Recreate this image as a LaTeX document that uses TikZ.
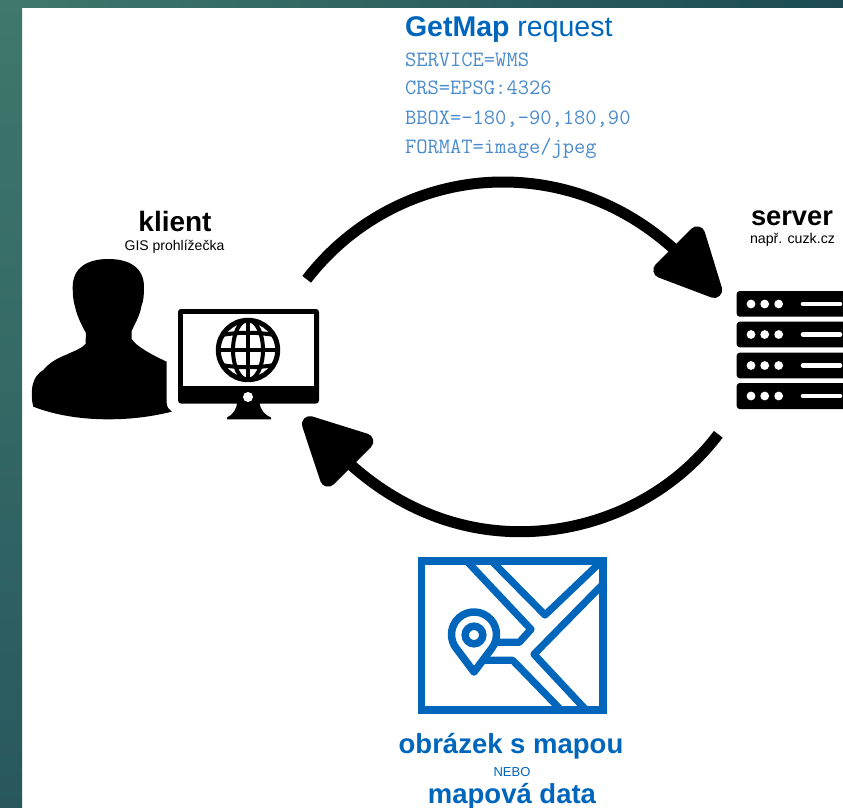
\documentclass[tikz,border=0pt]{standalone}
\usepackage{fontspec}
\setmainfont{Liberation Sans}
\definecolor{mapblue}{RGB}{0,102,187}
\definecolor{reqblue}{RGB}{75,140,205}
\definecolor{bgtop}{RGB}{63,120,108}
\definecolor{bgmid}{RGB}{58,113,106}
\definecolor{bgbot}{RGB}{40,88,94}
\definecolor{bgstripmid}{RGB}{38,88,92}
\definecolor{bgright}{RGB}{28,75,83}
\tikzset{
  lbl/.style={inner sep=0pt,outer sep=0pt,anchor=base},
  lblw/.style={inner sep=0pt,outer sep=0pt,anchor=base west},
  title/.style={lbl,font=\fontsize{28}{30}\selectfont\bfseries},
  subt/.style={lbl,font=\fontsize{14}{16}\selectfont},
  reqline/.style={lblw,text=reqblue,font=\fontsize{21.9}{24}\selectfont\ttfamily},
  maptitle/.style={lbl,text=mapblue,font=\fontsize{27.5}{30}\selectfont\bfseries},
  flow/.style={draw=black,line width=11pt,line cap=butt},
  flowhead/.style={fill=black,draw=black,line width=16pt,line join=round},
  maproad/.style={draw=mapblue,line width=7.2pt,line join=round},
  rack/.style={fill=black,rounded corners=3pt},
  rackdot/.style={fill=white},
  rackbar/.style={draw=white,line width=4.6pt,line cap=round}
}
\begin{document}
\begin{tikzpicture}[x=1pt,y=-1pt]
\useasboundingbox (0,0) rectangle (843,808);
% backdrop
\fill[white] (0,0) rectangle (843,808);
\shade[left color=bgtop,middle color=bgstripmid,right color=bgright] (0,0) rectangle (843,8);
\shade[top color=bgtop,middle color=bgmid,bottom color=bgbot] (0,0) rectangle (22,808);

% person
\fill[black] (108.3,259) .. controls (130,259) and (144,268) .. (144,287)
  .. controls (144,295) and (143.5,301) .. (141.7,305)
  .. controls (140,316) and (134,325) .. (131.7,331)
  -- (131.7,339) .. controls (136,346) and (150,354) .. (166.7,361.7)
  -- (166.7,403.3) .. controls (167,407) and (169,410) .. (171.7,411.7)
  .. controls (150,417) and (130,419.3) .. (108.3,419.3)
  .. controls (80,419.3) and (55,415) .. (33.3,406.7)
  .. controls (31.5,400) and (31.5,393) .. (32.3,386.7)
  .. controls (34,378) and (38,373) .. (43.3,370)
  .. controls (50,362) and (58,358) .. (66.7,354.5)
  .. controls (74,351) and (81,349) .. (85.5,344)
  -- (86,333) .. controls (82,326) and (77,316) .. (75,306.7)
  .. controls (73,300) and (72.7,294) .. (72.7,287)
  .. controls (72.7,268) and (87,259) .. (108.3,259) -- cycle;

% monitor
\fill[black,rounded corners=3pt] (178,309) rectangle (319,403.5);
\fill[white] (183.3,314.3) rectangle (314,386);
\fill[black] (237,402) -- (259.5,402) .. controls (260,410) and (265,415) .. (271,417.5)
  -- (271,419.3) -- (227,419.3) -- (227,417.5) .. controls (232,415) and (237,410) .. (237,402) -- cycle;
\fill[white] (248,397) circle[radius=5pt];
% globe
\begin{scope}
\clip (248,350) circle[radius=31pt];
\draw[black,line width=4pt] (248,318) -- (248,382);
\draw[black,line width=4pt] (216,350) -- (280,350);
\draw[black,line width=4pt] (222,335) .. controls (238,332) and (258,332) .. (274,335);
\draw[black,line width=4pt] (222,365) .. controls (238,368) and (258,368) .. (274,365);
\draw[black,line width=4pt] (248,350) ellipse[x radius=15pt,y radius=30pt];
\end{scope}
\draw[black,line width=5pt] (248,350) circle[radius=29.7pt];

% server
\fill[rack] (736.7,291) rectangle (850,316.7);
\fill[rack] (736.7,321.7) rectangle (850,347.3);
\fill[rack] (736.7,352.7) rectangle (850,378.3);
\fill[rack] (736.7,383) rectangle (850,409);
\foreach \ry in {304,334.5,365.5,396}{
  \fill[rackdot] (751,\ry) circle[radius=4.4pt];
  \fill[rackdot] (764.7,\ry) circle[radius=4.4pt];
  \fill[rackdot] (778.7,\ry) circle[radius=4.4pt];
  \draw[rackbar] (803,\ry) -- (840,\ry);
}

% connectors
\coordinate (reqstart) at (306.7,279.3);
\coordinate (reqpeak) at (503,182);
\coordinate (reqend) at (676,251);
\coordinate (respstart) at (718.3,434.3);
\coordinate (resplow) at (520,531.7);
\coordinate (respend) at (350,464);
\draw[flow] (reqstart) .. controls (353.5,218.3) and (426.1,182) .. (reqpeak)
  .. controls (565.8,182) and (626.8,205.5) .. (reqend);
\fill[flowhead] (697.1,234.3) -- (661.3,270) -- (714.2,290) -- cycle;
\draw[flow] (respstart) .. controls (671.4,496.1) and (597.5,531.7) .. (resplow)
  .. controls (458.1,531.7) and (399.1,508.3) .. (respend);
\fill[flowhead] (309.9,424.1) -- (365.3,441.4) -- (328,478.7) -- cycle;

% map icon
\begin{scope}
\clip (421.3,561.2) rectangle (603,710);
\draw[maproad] (466.7,561) -- (531,629.3) -- (519.3,642.3) -- (490,642.3);
\draw[maproad] (491.7,561) -- (545,615) -- (601.7,561);
\draw[maproad] (606,581) -- (534,654.3) -- (586,710);
\draw[maproad] (480,660.3) -- (512.7,660.3) -- (561,710);
\end{scope}
\draw[mapblue,line width=7.5pt,fill=white,line join=round] (474,672) -- (492,648)
  arc[start angle=-36.9,end angle=216.9,radius=22.5pt] -- cycle;
\draw[mapblue,line width=7.5pt] (474,635) circle[radius=8.8pt];
\draw[mapblue,line width=7.5pt] (421.3,561.2) rectangle (603,710);

% labels
\node[title] (klient) at (175,231.7) {klient};
\node[subt] (gis) at (174.5,250) {GIS prohlížečka};
\node[lbl,font=\fontsize{27.3}{30}\selectfont\bfseries] (server) at (792,225) {server};
\node[lbl,font=\fontsize{14.2}{17}\selectfont] (cuzk) at (792.5,243.3) {např. cuzk.cz};
\node[lblw,text=mapblue,font=\fontsize{28.5}{30}\selectfont] (getmap) at (405,36.7) {\textbf{GetMap} request};
\node[reqline] (l1) at (405,66.7) {SERVICE=WMS};
\node[reqline] (l2) at (405,95) {CRS=EPSG:4326};
\node[reqline] (l3) at (405,124) {BBOX=-180,-90,180,90};
\node[reqline] (l4) at (405,153) {FORMAT=image/jpeg};
\node[maptitle] (obr) at (511,753.3) {obrázek s mapou};
\node[lbl,text=mapblue,font=\fontsize{13}{15}\selectfont] (nebo) at (512,776) {NEBO};
\node[maptitle] (data) at (512,803.3) {mapová data};
\end{tikzpicture}
\end{document}
